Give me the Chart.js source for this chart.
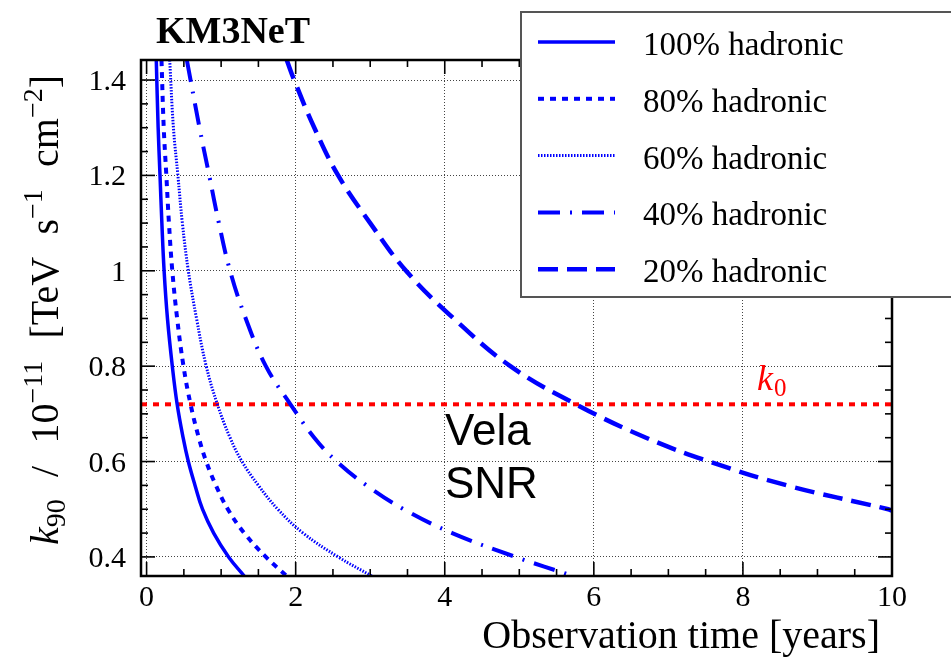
<!DOCTYPE html>
<html>
<head>
<meta charset="utf-8">
<script src="https://cdn.jsdelivr.net/npm/chart.js@4.4.1/dist/chart.umd.min.js"></script>
<style>
  html, body { margin: 0; padding: 0; background: #fff; }
  #wrap { width: 951px; height: 657px; }
</style>
</head>
<body>
<div id="wrap"><canvas id="chart" width="951" height="657"></canvas></div>
<script>
// Observation time [years] needed to reach k90 (1e-11 TeV^-1 s^-1 cm^-2)
const k90Levels = [1.442, 1.3, 1.2, 1.1, 1.0, 0.9, 0.8, 0.72, 0.65, 0.6, 0.55, 0.5, 0.45, 0.4, 0.36];
const time100 = [0.13, 0.155, 0.18, 0.205, 0.235, 0.28, 0.345, 0.41, 0.49, 0.56, 0.65, 0.75, 0.9, 1.1, 1.31];
const time80  = [0.2, 0.23, 0.265, 0.3, 0.345, 0.41, 0.495, 0.59, 0.7, 0.8, 0.93, 1.09, 1.31, 1.6, 1.88];
const time60  = [0.31, 0.36, 0.42, 0.48, 0.56, 0.67, 0.8, 0.95, 1.12, 1.28, 1.5, 1.76, 2.1, 2.57, 3.02];

const k90Levels40 = [1.442, 1.4, 1.3, 1.2, 1.1, 1.0, 0.9, 0.8, 0.72, 0.65, 0.6, 0.55, 0.5, 0.45, 0.4, 0.36];
const time40      = [0.54, 0.59, 0.71, 0.84, 0.97, 1.12, 1.33, 1.6, 1.93, 2.25, 2.55, 2.95, 3.45, 4.1, 4.95, 5.72];

const k90Levels20 = [1.442, 1.4, 1.3, 1.2, 1.1, 1.0, 0.9, 0.8, 0.72, 0.65, 0.6, 0.55, 0.5, 0.497];
const time20      = [1.88, 1.98, 2.25, 2.57, 3.0, 3.48, 4.12, 4.88, 5.76, 6.7, 7.55, 8.59, 9.95, 10.0];

const k0Value = 0.72;
const seriesLabels = ['100% hadronic', '80% hadronic', '60% hadronic', '40% hadronic', '20% hadronic'];
const xTickLabels = [0, 2, 4, 6, 8, 10];
const yTickLabels = [0.4, 0.6, 0.8, 1, 1.2, 1.4];

const X_MIN = -0.075, X_MAX = 10;
const Y_MIN = 0.36, Y_MAX = 1.442;

const pts = (ts, ks) => ts.map((t, i) => ({ x: t, y: ks[i] }));
const BLUE = '#0000ff';
const SERIF = '"Liberation Serif", "Times New Roman", serif';

const lineStyles = [
    { borderWidth: 3.5, borderDash: [] },
    { borderWidth: 4, borderDash: [6, 6] },
    { borderWidth: 3, borderDash: [1.5, 1.5] },
    { borderWidth: 4, borderDash: [22, 10, 2, 10] },
    { borderWidth: 4.5, borderDash: [20, 9] }
];
const seriesData = [
    pts(time100, k90Levels),
    pts(time80, k90Levels),
    pts(time60, k90Levels),
    pts(time40, k90Levels40),
    pts(time20, k90Levels20)
];

const datasets = seriesData.map((d, i) => ({
    label: seriesLabels[i],
    data: d,
    borderColor: BLUE,
    borderWidth: lineStyles[i].borderWidth,
    borderDash: lineStyles[i].borderDash,
    borderCapStyle: 'butt',
    pointRadius: 0,
    tension: 0.4,
    clip: 0
}));

// k0 reference level
datasets.push({
    label: 'k0',
    data: [{ x: X_MIN, y: k0Value }, { x: X_MAX, y: k0Value }],
    borderColor: '#ff0000',
    borderWidth: 4,
    borderDash: [6, 6],
    borderCapStyle: 'butt',
    pointRadius: 0,
    clip: 0
});

function hline(ctx, x1, y1, x2, y2) {
    ctx.beginPath();
    ctx.moveTo(x1, y1);
    ctx.lineTo(x2, y2);
    ctx.stroke();
}

const decor = {
    id: 'decor',
    afterDatasetsDraw(chart) {
        const { ctx, chartArea: a, scales: { x, y } } = chart;
        ctx.save();
        ctx.strokeStyle = '#000';
        ctx.lineWidth = 1.6;

        // inward ticks, x every 0.5, major every 2
        for (let v = 0; v <= 10.001; v += 0.5) {
            const px = x.getPixelForValue(v);
            const major = Math.abs(v / 2 - Math.round(v / 2)) < 1e-6;
            const len = major ? 14 : 7;
            hline(ctx, px, a.bottom, px, a.bottom - len);
            hline(ctx, px, a.top, px, a.top + len);
        }
        // inward ticks, y every 0.05, major every 0.2
        for (let v = 0.4; v <= 1.4001; v += 0.05) {
            const py = y.getPixelForValue(v);
            const major = Math.abs(v / 0.2 - Math.round(v / 0.2)) < 1e-6;
            const len = major ? 14 : 7;
            hline(ctx, a.left, py, a.left + len, py);
            hline(ctx, a.right, py, a.right - len, py);
        }

        // frame
        ctx.lineWidth = 2.5;
        ctx.strokeRect(a.left, a.top, a.right - a.left, a.bottom - a.top);

        // tick labels
        ctx.fillStyle = '#000';
        ctx.font = '30px ' + SERIF;
        ctx.textBaseline = 'alphabetic';
        ctx.textAlign = 'center';
        xTickLabels.forEach(v => {
            ctx.fillText(String(v), x.getPixelForValue(v), 606);
        });
        ctx.textAlign = 'right';
        yTickLabels.forEach(v => {
            ctx.fillText(String(Math.round(v * 10) / 10), 126, y.getPixelForValue(v) + 10);
        });
        ctx.restore();
    },
    afterDraw(chart) {
        const { ctx } = chart;
        ctx.save();

        // title
        ctx.fillStyle = '#000';
        ctx.font = 'bold 38px ' + SERIF;
        ctx.textAlign = 'left';
        ctx.fillText('KM3NeT', 156, 43);

        // x axis title
        ctx.font = '40px ' + SERIF;
        ctx.textAlign = 'right';
        ctx.fillText('Observation time [years]', 880, 648);

        // y axis title, rotated, with sub/superscripts
        const big = '40px ' + SERIF, small = '28px ' + SERIF;
        const runs = [
            { t: 'k', f: 'italic ' + big, dy: 0 },
            { t: '90', f: small, dy: 7 },
            { gap: 1 },
            { t: '/', f: big, dy: 0 },
            { gap: 1 },
            { t: '10', f: big, dy: 0 },
            { t: '\u221211', f: small, dy: -16 },
            { gap: 1 },
            { t: '[TeV', f: big, dy: 0 },
            { gap: 1 },
            { t: 's', f: big, dy: 0 },
            { t: '\u22121', f: small, dy: -16 },
            { gap: 1 },
            { t: 'cm', f: big, dy: 0 },
            { t: '\u22122', f: small, dy: -16 },
            { t: ']', f: big, dy: 0 }
        ];
        let natural = 0, gaps = 0;
        runs.forEach(r => {
            if (r.gap) { gaps++; return; }
            ctx.font = r.f;
            r.w = ctx.measureText(r.t).width;
            natural += r.w;
        });
        const gapW = Math.max(6, (470 - natural) / gaps);
        ctx.translate(58, 545);
        ctx.rotate(-Math.PI / 2);
        ctx.textAlign = 'left';
        let cx = 0;
        runs.forEach(r => {
            if (r.gap) { cx += gapW; return; }
            ctx.font = r.f;
            ctx.fillText(r.t, cx, r.dy);
            cx += r.w;
        });
        ctx.setTransform(1, 0, 0, 1, 0, 0);

        // annotations
        ctx.fillStyle = '#ff0000';
        ctx.font = 'italic 36px ' + SERIF;
        ctx.fillText('k', 757, 390);
        const kw = ctx.measureText('k').width;
        ctx.font = '25px ' + SERIF;
        ctx.fillText('0', 757 + kw + 1, 396);

        ctx.fillStyle = '#000';
        ctx.font = '44px "Liberation Sans", Arial, sans-serif';
        ctx.fillText('Vela', 445, 445);
        ctx.fillText('SNR', 445, 498);

        // legend box
        ctx.fillStyle = '#fff';
        ctx.fillRect(521, 12, 460, 285);
        ctx.strokeStyle = '#555';
        ctx.lineWidth = 2;
        ctx.strokeRect(521, 12, 460, 285);

        chart.data.datasets.slice(0, 5).forEach((ds, i) => {
            const base = 55 + i * 56.8;
            ctx.strokeStyle = ds.borderColor;
            ctx.lineWidth = ds.borderWidth;
            ctx.lineCap = 'butt';
            ctx.setLineDash(ds.borderDash);
            hline(ctx, 538, base - 13, 615, base - 13);
            ctx.setLineDash([]);
            ctx.fillStyle = '#000';
            ctx.font = '33px ' + SERIF;
            ctx.fillText(ds.label, 643, base);
        });
        ctx.restore();
    }
};

const ctx = document.getElementById('chart').getContext('2d');
const chart = new Chart(ctx, {
    type: 'line',
    data: { datasets },
    options: {
        responsive: false,
        animation: false,
        events: [],
        layout: { padding: { left: 141, right: 59, top: 60, bottom: 81 } },
        plugins: {
            legend: { display: false },
            tooltip: { enabled: false }
        },
        scales: {
            x: {
                type: 'linear',
                min: X_MIN,
                max: X_MAX,
                afterBuildTicks: s => { s.ticks = xTickLabels.map(v => ({ value: v })); },
                afterFit: s => { s.height = 0; },
                ticks: { display: false },
                grid: { color: '#444', lineWidth: 1, drawTicks: false },
                border: { display: false, dash: [1, 2] }
            },
            y: {
                type: 'linear',
                min: Y_MIN,
                max: Y_MAX,
                afterBuildTicks: s => { s.ticks = yTickLabels.map(v => ({ value: v })); },
                afterFit: s => { s.width = 0; },
                ticks: { display: false },
                grid: { color: '#444', lineWidth: 1, drawTicks: false },
                border: { display: false, dash: [1, 2] }
            }
        }
    },
    plugins: [decor]
});
</script>
</body>
</html>
